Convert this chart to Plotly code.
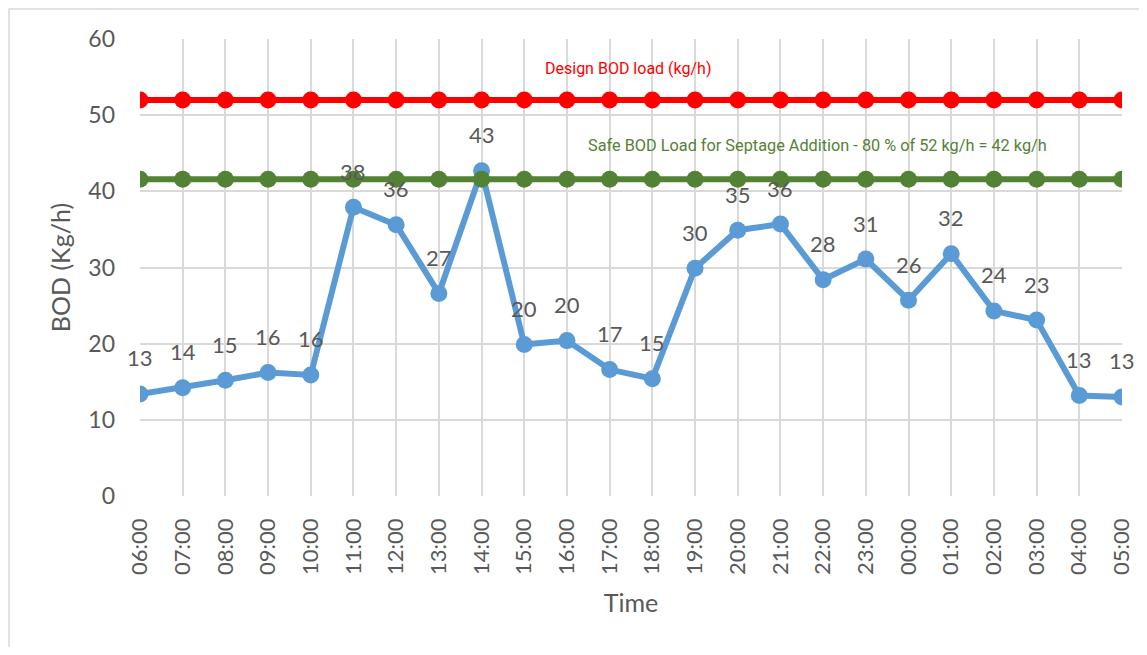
import plotly.graph_objects as go

times = ["06:00", "07:00", "08:00", "09:00", "10:00", "11:00", "12:00", "13:00",
         "14:00", "15:00", "16:00", "17:00", "18:00", "19:00", "20:00", "21:00",
         "22:00", "23:00", "00:00", "01:00", "02:00", "03:00", "04:00", "05:00"]
bod_load = [13.4, 14.2, 15.2, 16.2, 15.9, 37.9, 35.6, 26.6, 42.7, 19.9, 20.4, 16.6,
            15.4, 29.9, 34.9, 35.7, 28.4, 31.1, 25.7, 31.8, 24.3, 23.1, 13.2, 13.0]
design_load = [52, 52, 52, 52, 52, 52, 52, 52, 52, 52, 52, 52,
               52, 52, 52, 52, 52, 52, 52, 52, 52, 52, 52, 52]
safe_load = [41.6, 41.6, 41.6, 41.6, 41.6, 41.6, 41.6, 41.6, 41.6, 41.6, 41.6, 41.6,
             41.6, 41.6, 41.6, 41.6, 41.6, 41.6, 41.6, 41.6, 41.6, 41.6, 41.6, 41.6]
y_ticks = [0, 10, 20, 30, 40, 50, 60]

GRAY = "#595959"
GRID = "#d9d9d9"
FONT = "Lato, 'Open Sans', sans-serif"

fig = go.Figure()
fig.add_trace(go.Scatter(x=times, y=bod_load, mode="lines+markers",
                         line=dict(color="#5b9bd5", width=6),
                         marker=dict(color="#5b9bd5", size=17),
                         showlegend=False, hoverinfo="x+y"))
fig.add_trace(go.Scatter(x=times, y=design_load, mode="lines+markers",
                         line=dict(color="#ff0000", width=6),
                         marker=dict(color="#ff0000", size=17),
                         showlegend=False))
fig.add_trace(go.Scatter(x=times, y=safe_load, mode="lines+markers",
                         line=dict(color="#548235", width=6),
                         marker=dict(color="#548235", size=17),
                         showlegend=False))

for t, v in zip(times, bod_load):
    fig.add_annotation(x=t, y=v, text=str(int(round(v))), showarrow=False,
                       yshift=36, font=dict(family=FONT, size=22, color=GRAY))

fig.add_annotation(xref="paper", yref="paper", x=0.497, y=0.9365,
                   xanchor="center", yanchor="middle",
                   text="Design BOD load (kg/h)", showarrow=False,
                   font=dict(family="Roboto, sans-serif", size=16, color="#ff0000"))
fig.add_annotation(xref="paper", yref="paper", x=0.690, y=0.766,
                   xanchor="center", yanchor="middle",
                   text="Safe BOD Load for Septage Addition - 80 % of 52 kg/h = 42 kg/h",
                   showarrow=False,
                   font=dict(family="Roboto, sans-serif", size=16.3, color="#548235"))

# outer chart frame
fig.add_shape(type="rect", xref="paper", yref="paper",
              x0=-0.1334, x1=1.05, y0=-0.40, y1=1.0656,
              line=dict(color=GRID, width=1.5), layer="below")

fig.update_layout(
    width=1131, height=639,
    margin=dict(l=132, r=17, t=31, b=151, autoexpand=False),
    paper_bgcolor="white", plot_bgcolor="white",
    font=dict(family=FONT, color=GRAY),
)
fig.update_xaxes(type="category", range=[0, 23], showgrid=True, gridcolor=GRID,
                 gridwidth=1.5, tickangle=-90, ticklabelstandoff=17,
                 automargin=False,
                 tickfont=dict(family=FONT, size=22, color=GRAY),
                 showline=False, zeroline=False,
                 title=dict(text="Time", standoff=20,
                            font=dict(family=FONT, size=25, color=GRAY)))
fig.update_yaxes(range=[0, 60], tickvals=y_ticks, showgrid=True, gridcolor=GRID,
                 gridwidth=1.5, ticklabelstandoff=24, zeroline=False,
                 automargin=False,
                 tickfont=dict(family=FONT, size=23, color=GRAY),
                 title=dict(text="BOD (Kg/h)", standoff=10,
                            font=dict(family=FONT, size=25, color=GRAY)))

fig.write_html("out.html")
